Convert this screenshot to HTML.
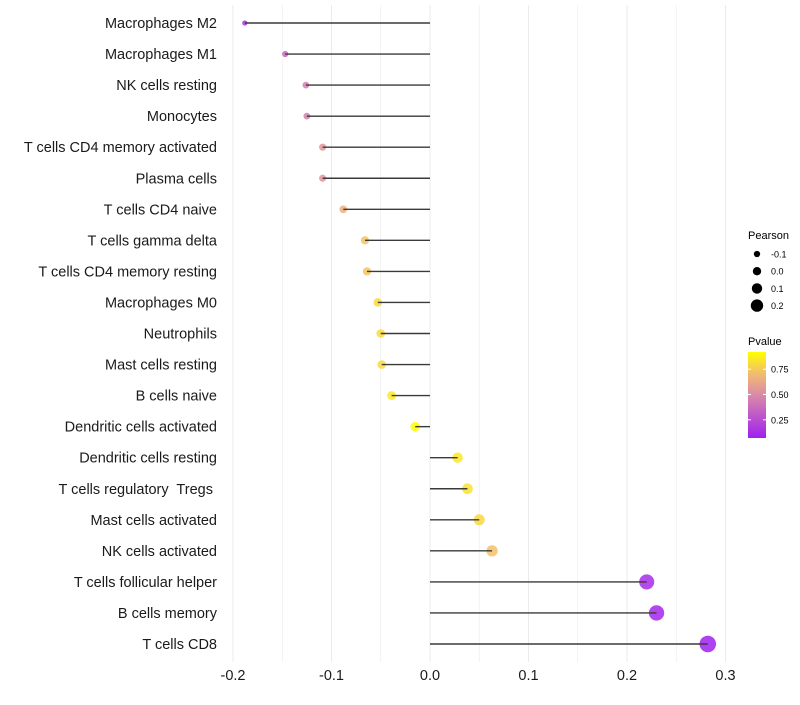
<!DOCTYPE html>
<html><head><meta charset="utf-8"><style>
body{margin:0;background:#fff;font-family:"Liberation Sans",sans-serif}
</style></head><body>
<svg id="chart" width="800" height="700" xmlns="http://www.w3.org/2000/svg" font-family="Liberation Sans, sans-serif"></svg>
<script>
const categories=["Macrophages M2","Macrophages M1","NK cells resting","Monocytes","T cells CD4 memory activated","Plasma cells","T cells CD4 naive","T cells gamma delta","T cells CD4 memory resting","Macrophages M0","Neutrophils","Mast cells resting","B cells naive","Dendritic cells activated","Dendritic cells resting","T cells regulatory\u00a0 Tregs\u00a0","Mast cells activated","NK cells activated","T cells follicular helper","B cells memory","T cells CD8"];
const pearson=[-0.188,-0.147,-0.126,-0.125,-0.109,-0.109,-0.088,-0.066,-0.064,-0.053,-0.050,-0.049,-0.039,-0.015,0.028,0.038,0.050,0.063,0.220,0.230,0.282];
const pvalue=[0.15,0.35,0.45,0.45,0.55,0.55,0.65,0.73,0.73,0.8,0.8,0.8,0.85,0.92,0.85,0.83,0.8,0.72,0.12,0.1,0.07];
const xTicks=[-0.2,-0.1,0.0,0.1,0.2,0.3];
const xTickLabels=["-0.2","-0.1","0.0","0.1","0.2","0.3"];
const sizeLegend=[-0.1,0.0,0.1,0.2];
const colorLegend=[0.25,0.5,0.75];
const svg=document.getElementById('chart');
const NS='http://www.w3.org/2000/svg';
const x=v=>430+v*985;
const y=i=>23+i*31.05;
const r=v=>Math.max(1.6,4.9+12*v);
const pMin=0.07,pMax=0.92;
const stops=[[0,[160,32,240]],[0.5,[217,138,168]],[0.75,[242,188,110]],[1,[255,255,0]]];
function col(p){let t=Math.min(1,Math.max(0,(p-pMin)/(pMax-pMin)));
 let k=0;while(k<stops.length-2&&t>stops[k+1][0])k++;
 const [t0,a]=stops[k],[t1,b]=stops[k+1];const u=(t-t0)/(t1-t0);
 return `rgb(${a.map((c,j)=>Math.round(c+(b[j]-c)*u)).join(',')})`;}
function el(t,at,txt){const e=document.createElementNS(NS,t);for(const k in at)e.setAttribute(k,at[k]);if(txt!==undefined)e.textContent=txt;svg.appendChild(e);return e;}
for(let v=-0.2;v<=0.301;v+=0.05){const g=el('line',{x1:x(v),x2:x(v),y1:5,y2:662,stroke:'#ebebeb','stroke-width':Math.abs(Math.round(v*100)%10)<1?1:0.6});
}
categories.forEach((c,i)=>{
 const t=el('text',{x:217,y:y(i)+5,'text-anchor':'end','font-size':14.5,fill:'#1a1a1a'},c);
 
 const d=el('circle',{cx:x(pearson[i]),cy:y(i),r:r(pearson[i]),fill:col(pvalue[i]),'fill-opacity':0.85});
 
 const l=el('line',{x1:x(0),x2:x(pearson[i]),y1:y(i),y2:y(i),stroke:'#3a3a3a','stroke-width':1.4});
 
});
xTicks.forEach((v,i)=>{const t=el('text',{x:x(v),y:680,'text-anchor':'middle','font-size':14.5,fill:'#1a1a1a'},xTickLabels[i]);
 });
let lt=el('text',{x:748,y:239,'font-size':11,fill:'#000'},'Pearson');
sizeLegend.forEach((v,i)=>{const cy=254+i*17.2;
 const c=el('circle',{cx:757,cy:cy,r:r(v)*0.85,fill:'#000'});
 const t=el('text',{x:771,y:cy+3.5,'font-size':9,fill:'#000'},v.toFixed(1));});
lt=el('text',{x:748,y:345,'font-size':11,fill:'#000'},'Pvalue');
const defs=el('defs',{});const lg=document.createElementNS(NS,'linearGradient');lg.setAttribute('id','pg');lg.setAttribute('x1',0);lg.setAttribute('y1',1);lg.setAttribute('x2',0);lg.setAttribute('y2',0);
stops.forEach(([o,c])=>{const s=document.createElementNS(NS,'stop');s.setAttribute('offset',o);s.setAttribute('stop-color',`rgb(${c.join(',')})`);lg.appendChild(s);});defs.appendChild(lg);
const cb=el('rect',{x:748,y:352,width:18,height:86,fill:'url(#pg)'});
const cy=p=>438-(p-pMin)/(pMax-pMin)*86;
colorLegend.forEach(p=>{el('line',{x1:748,x2:751,y1:cy(p),y2:cy(p),stroke:'#fff'});el('line',{x1:763,x2:766,y1:cy(p),y2:cy(p),stroke:'#fff'});
 const t=el('text',{x:771,y:cy(p)+3.5,'font-size':9,fill:'#000'},p.toFixed(2));});
</script>
</body></html>
